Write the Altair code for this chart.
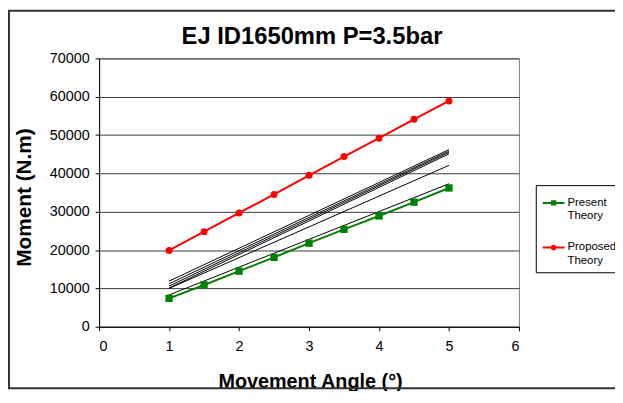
import altair as alt
import pandas as pd

# ---- data ----
angles = [1, 1.5, 2, 2.5, 3, 3.5, 4, 4.5, 5]
present_theory = [7400, 10900, 14500, 18100, 21800, 25400, 28900, 32500, 36200]
proposed_theory = [19900, 24800, 29700, 34500, 39500, 44400, 49200, 54100, 58900]

other_angles = [1, 5]
other_a = [11900, 46200]
other_b = [11200, 45800]
other_c = [10600, 45500]
other_d = [10100, 45100]
other_e = [10000, 42100]
other_f = [8300, 37300]

series_names = ["Present Theory", "Proposed Theory"]
series_colors = ["#008000", "#FF0000"]
series_shapes = ["square", "circle"]
x_ticks = [0, 1, 2, 3, 4, 5, 6]
y_ticks = [0, 10000, 20000, 30000, 40000, 50000, 60000, 70000]

FONT = "Liberation Sans"

main_df = pd.DataFrame({
    "angle": angles * 2,
    "moment": present_theory + proposed_theory,
    "series": [series_names[0]] * len(angles) + [series_names[1]] * len(angles),
})

others = [other_a, other_b, other_c, other_d, other_e, other_f]
other_df = pd.DataFrame({
    "angle": other_angles * len(others),
    "moment": sum(others, []),
    "line": sum([[f"L{i}"] * len(other_angles) for i in range(len(others))], []),
})

x_enc = alt.X("angle:Q", scale=alt.Scale(domain=[0, 6], nice=False),
              axis=alt.Axis(values=x_ticks, title="Movement Angle (°)", grid=False,
                            titleX=213, titleY=61, titleBaseline="alphabetic",
                            labelPadding=9))
y_enc = alt.Y("moment:Q", scale=alt.Scale(domain=[0, 70000], nice=False),
              axis=alt.Axis(values=y_ticks, title="Moment (N.m)", format="d", grid=True,
                            titleX=-75, titleY=140, titleBaseline="middle", titleAngle=-90,
                            titleFontSize=21, labelPadding=6))

border = alt.Chart(pd.DataFrame({"k": [0]})).mark_rect(
    filled=False, stroke="#333333", strokeWidth=2
).encode(x=alt.value(-91), x2=alt.value(560), y=alt.value(-48), y2=alt.value(333))

other_lines = alt.Chart(other_df).mark_line(color="black", strokeWidth=1).encode(
    x=x_enc, y=y_enc, detail="line:N"
)

layers = [border, other_lines]
for name, col, shp in zip(series_names, series_colors, series_shapes):
    base = alt.Chart(main_df).transform_filter(alt.datum.series == name)
    layers.append(base.mark_line(color=col, strokeWidth=2).encode(x=x_enc, y=y_enc))
for name, col, shp in zip(series_names, series_colors, series_shapes):
    base = alt.Chart(main_df).transform_filter(alt.datum.series == name)
    layers.append(base.mark_point(color=col, filled=True, opacity=1, shape=shp,
                                  size=55 if shp == "square" else 50).encode(x=x_enc, y=y_enc))

legend_paths = [
    "M-1,0H1M-0.15,-0.15H0.15V0.15H-0.15Z",
    "M-1,0H1M0.17,0A0.17,0.17 0 1,1 -0.17,0A0.17,0.17 0 1,1 0.17,0Z",
]
leg = alt.Legend(title=None, orient="none", legendX=441, legendY=128,
                 strokeColor="black", fillColor="white", padding=6,
                 labelFont=FONT, labelFontSize=11.5, labelColor="black",
                 labelExpr="split(datum.label, ' ')", labelBaseline="middle",
                 symbolSize=484, symbolStrokeWidth=2, labelOffset=2, rowPadding=14)
legend_layer = alt.Chart(main_df).transform_filter("false").mark_point(
    filled=True, opacity=1
).encode(
    x=x_enc, y=y_enc,
    fill=alt.Fill("series:N", scale=alt.Scale(domain=series_names, range=series_colors), legend=leg),
    stroke=alt.Stroke("series:N", scale=alt.Scale(domain=series_names, range=series_colors), legend=leg),
    shape=alt.Shape("series:N", scale=alt.Scale(domain=series_names, range=legend_paths), legend=leg),
)
layers.append(legend_layer)

chart = alt.layer(*layers).properties(
    width=424, height=271,
    padding={"left": 92, "top": 49, "right": 97, "bottom": 63},
    autosize=alt.AutoSizeParams(type="none"),
    title=alt.Title("EJ ID1650mm P=3.5bar", font=FONT, fontSize=24, fontWeight="bold",
                    color="black", anchor="middle", frame="group", baseline="alphabetic",
                    offset=12, dx=3, dy=70),
).configure_view(
    stroke="#808080", strokeWidth=1
).configure_axis(
    labelFont=FONT, labelFontSize=14.5, labelColor="black",
    titleFont=FONT, titleFontSize=20, titleFontWeight="bold", titleColor="black",
    domainColor="black", tickColor="black", tickSize=4, domainWidth=1,
    gridColor="#3a3a3a", gridWidth=1,
)

chart.save("out.html", embed_options={"renderer": "svg", "actions": False})
